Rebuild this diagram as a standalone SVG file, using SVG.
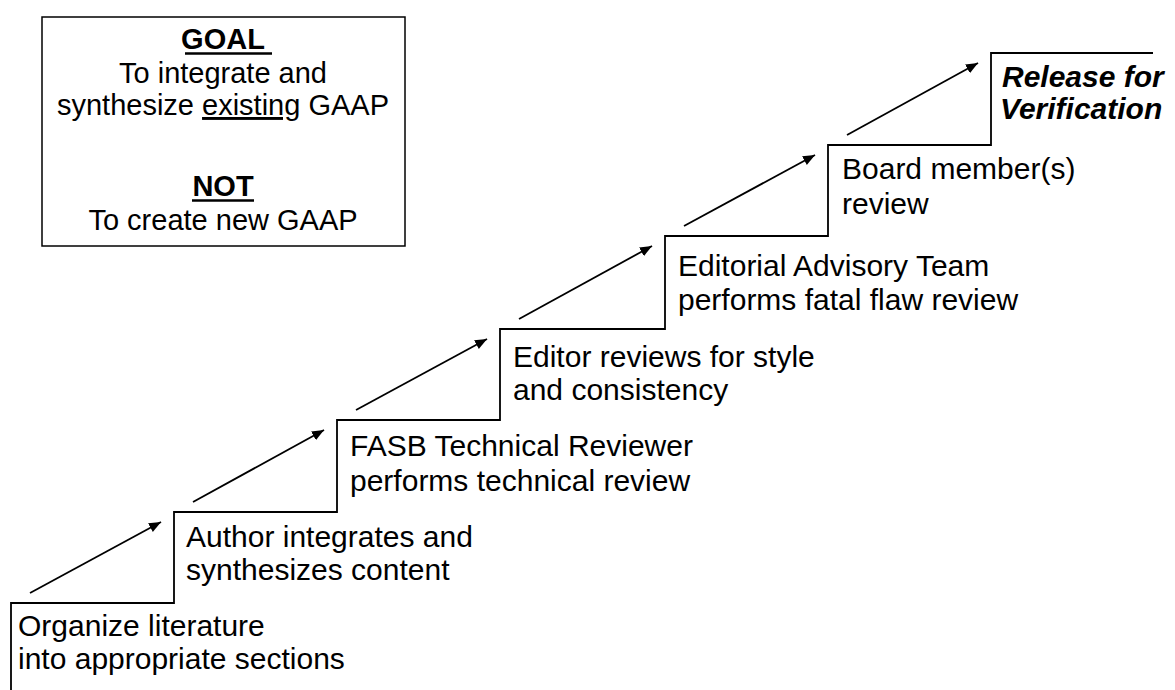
<svg xmlns="http://www.w3.org/2000/svg" width="1175" height="690" viewBox="0 0 1175 690">
<style>
.t{font-family:"Liberation Sans",Arial,sans-serif;font-size:30px;fill:#000}
.g{font-family:"Liberation Sans",Arial,sans-serif;font-size:29px;fill:#000;text-anchor:middle}
.b{font-weight:bold}
.bi{font-weight:bold;font-style:italic}
.stair{fill:none;stroke:#000;stroke-width:1.8}
.arr{fill:none;stroke:#000;stroke-width:1.8;marker-end:url(#ah)}
</style>
<defs>
<marker id="ah" markerUnits="userSpaceOnUse" markerWidth="14" markerHeight="12" refX="12" refY="5" orient="auto">
<path d="M0,0 L12,5 L0,10 Z" fill="#000"/>
</marker>
</defs>
<rect width="1175" height="690" fill="#fff"/>
<g id="goal">
<rect x="42" y="17" width="363" height="229" fill="none" stroke="#000" stroke-width="1.5"/>
<text class="g b" x="223" y="49">GOAL</text>
<line x1="185" y1="53.5" x2="272" y2="53.5" stroke="#000" stroke-width="2.5"/>
<text class="g" x="223" y="83">To integrate and</text>
<text class="g" x="223" y="115">synthesize <tspan text-decoration="underline">existing</tspan> GAAP</text>
<text class="g b" x="223" y="196">NOT</text>
<line x1="192" y1="200.5" x2="254" y2="200.5" stroke="#000" stroke-width="2.5"/>
<text class="g" x="223" y="230">To create new GAAP</text>
</g>
<g id="connectors">
<polyline class="stair" points="11,690 11,603 174,603 174,512 337,512 337,420 500,420 500,329 665,329 665,236 828,236 828,145 991,145 991,53 1153,53"/>
<line class="arr" x1="30" y1="593" x2="161" y2="522"/>
<line class="arr" x1="193" y1="502" x2="324" y2="430"/>
<line class="arr" x1="356" y1="410" x2="487" y2="339"/>
<line class="arr" x1="519" y1="319" x2="652" y2="246"/>
<line class="arr" x1="684" y1="226" x2="815" y2="155"/>
<line class="arr" x1="847" y1="135" x2="978" y2="63"/>
</g>
<g id="step1"><text class="t" x="18" y="636">Organize literature</text><text class="t" x="18" y="669">into appropriate sections</text></g>
<g id="step2"><text class="t" x="186" y="547">Author integrates and</text><text class="t" x="186" y="580">synthesizes content</text></g>
<g id="step3"><text class="t" x="350" y="456">FASB Technical Reviewer</text><text class="t" x="350" y="491">performs technical review</text></g>
<g id="step4"><text class="t" x="513" y="367">Editor reviews for style</text><text class="t" x="513" y="400">and consistency</text></g>
<g id="step5"><text class="t" x="678" y="276">Editorial Advisory Team</text><text class="t" x="678" y="310">performs fatal flaw review</text></g>
<g id="step6"><text class="t" x="842" y="179">Board member(s)</text><text class="t" x="842" y="214">review</text></g>
<g id="step7"><text class="t bi" x="1002" y="87">Release for</text><text class="t bi" x="1000" y="119">Verification</text></g>
</svg>
